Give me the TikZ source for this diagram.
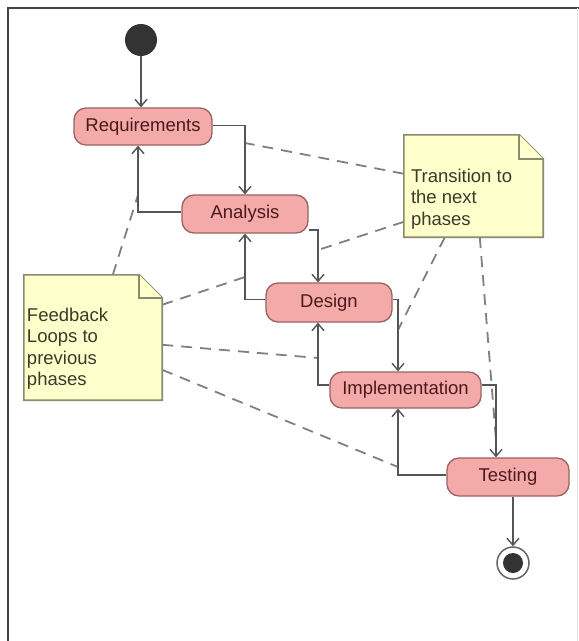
\documentclass[tikz,border=0pt]{standalone}
\usepackage{fontspec}
\setmainfont{Liberation Sans}
\usetikzlibrary{arrows.meta,calc}
\definecolor{actfill}{HTML}{F5AAAA}
\definecolor{actdraw}{HTML}{9A6262}
\definecolor{acttext}{HTML}{4A1A1A}
\definecolor{linec}{HTML}{555555}
\definecolor{dashc}{HTML}{808080}
\definecolor{notefill}{HTML}{FFFFCC}
\definecolor{notedraw}{HTML}{8A8A6E}
\definecolor{notetext}{HTML}{3A3A2A}
\definecolor{framec}{HTML}{444444}
\begin{document}
\begin{tikzpicture}[x=1pt,y=-1pt,
  act/.style={draw=actdraw, line width=1.3pt, fill=actfill, rounded corners=12pt,
    inner sep=0pt, text=acttext, font=\fontsize{18.5}{21}\selectfont},
  flow/.style={draw=linec, line width=1.4pt, -{Straight Barb[length=7pt,width=12pt]}},
  anno/.style={draw=dashc, line width=1.8pt, dash pattern=on 11pt off 8pt},
  notebox/.style={inner sep=0pt, draw=none},
  noteshape/.style={draw=notedraw, line width=1.6pt, fill=notefill, line join=miter},
  notetxt/.style={inner sep=0pt, align=left, anchor=north west, text=notetext,
    font=\fontsize{18.5}{21.5}\selectfont}
]
\useasboundingbox (0,0) rectangle (579,641);
\fill[white] (0,0) rectangle (579,641);
\draw[framec, line width=2pt] (8,641) -- (8,8) -- (579,8);
\draw[black!12, line width=1pt] (577,8) -- (577,641);

% activity nodes
\node[circle, fill=black!80, minimum size=32pt, inner sep=0pt] (start) at (141,40) {};
\node[act, minimum width=138pt, minimum height=37pt] (req) at (143,126.5) {Requirements};
\node[act, minimum width=126pt, minimum height=38pt] (ana) at (245,214) {Analysis};
\node[act, minimum width=126pt, minimum height=39pt] (des) at (329,302.5) {Design};
\node[act, minimum width=151pt, minimum height=36pt] (imp) at (405.5,390) {Implementation};
\node[act, minimum width=122pt, minimum height=38pt] (tes) at (508,477) {Testing};
\node[circle, draw=black!60, line width=1.5pt, fill=white, minimum size=32pt, inner sep=0pt] (endc) at (513,563) {};
\fill[black!80] (endc.center) circle (10pt);

% notes (frames)
\node[notebox, minimum width=139pt, minimum height=102pt] (tn) at (473.5,186) {};
\node[notebox, minimum width=138pt, minimum height=125pt] (fn) at (93,337.5) {};

% connector points for annotation lines
\coordinate (ca) at (245,143);
\coordinate (cb) at (318,250);
\coordinate (cc) at (398,330);
\coordinate (cd) at (496,440);
\coordinate (ce) at (138,195);
\coordinate (cf) at (245,277);
\coordinate (cg) at (318,358);
\coordinate (ch) at (398,467);

% dashed annotation lines
\draw[anno] ($(tn.north west)+(0,39)$) -- (ca);
\draw[anno] ($(tn.north west)+(0,87)$) -- (cb);
\draw[anno] ($(tn.south west)+(41,0)$) -- (cc);
\draw[anno] ($(tn.south west)+(76,0)$) -- (cd);
\draw[anno] ($(fn.north west)+(89,0)$) -- (ce);
\draw[anno] ($(fn.north east)+(0,30)$) -- (cf);
\draw[anno] ($(fn.north east)+(0,70)$) -- (cg);
\draw[anno] ($(fn.north east)+(0,95)$) -- (ch);

% flow connectors
\draw[flow] (start) -- (start |- req.north);
\draw[flow] ($(req.east)+(0,-1)$) -| (ana.north);
\draw[flow] ($(ana.west)+(0,-2)$) -| ($(req.south)+(-5,0)$);
\draw[flow] ($(ana.east)+(0,16)$) -| ($(des.north)+(-11,0)$);
\draw[flow] ($(des.west)+(0,-3)$) -| (ana.south);
\draw[flow] ($(des.east)+(0,-3)$) -| ($(imp.north)+(-7.5,0)$);
\draw[flow] ($(imp.west)+(0,-5)$) -| ($(des.south)+(-11,0)$);
\draw[flow] ($(imp.east)+(0,-5)$) -| ($(tes.north)+(-12,0)$);
\draw[flow] ($(tes.west)+(0,-2)$) -| ($(imp.south)+(-7.5,0)$);
\draw[flow] (tes.south -| endc) -- (endc.north);

% note shapes
\draw[noteshape] (tn.north west) -- ($(tn.north east)+(-24,0)$) -- ($(tn.north east)+(0,24)$)
  -- (tn.south east) -- (tn.south west) -- cycle;
\draw[noteshape] ($(tn.north east)+(-24,0)$) -- ($(tn.north east)+(-24,24)$) -- ($(tn.north east)+(0,24)$);
\draw[noteshape] (fn.north west) -- ($(fn.north east)+(-23,0)$) -- ($(fn.north east)+(0,23)$)
  -- (fn.south east) -- (fn.south west) -- cycle;
\draw[noteshape] ($(fn.north east)+(-23,0)$) -- ($(fn.north east)+(-23,23)$) -- ($(fn.north east)+(0,23)$);

\node[notetxt] (tnt) at ($(tn.north west)+(7,34)$) {Transition to\\the next\\phases};
\node[notetxt] (fnt) at ($(fn.north west)+(3,33)$) {Feedback\\Loops to\\previous\\phases};
\end{tikzpicture}
\end{document}
